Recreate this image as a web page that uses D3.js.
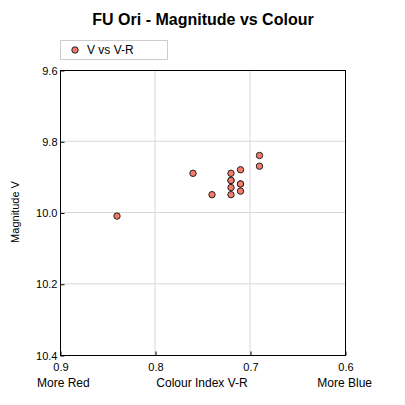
<!DOCTYPE html>
<html>
  <head>
    <script src="https://d3js.org/d3.v7.min.js"></script>
    <style>
      body { margin: 0; background: #fff; }
      text { font-family: "Liberation Sans", Arial, sans-serif; }
    </style>
  </head>
  <body>
    <svg width="405" height="405"></svg>
    <script>
      // V-R colour index and V magnitude for FU Ori
      const colourVR = [0.84, 0.76, 0.74, 0.72, 0.72, 0.72, 0.72, 0.72, 0.71, 0.71, 0.71, 0.71, 0.69, 0.69];
      const magV     = [10.01, 9.89, 9.95, 9.89, 9.91, 9.93, 9.95, 9.91, 9.88, 9.92, 9.94, 9.92, 9.84, 9.87];
      const xTicks = [0.9, 0.8, 0.7, 0.6];
      const yTicks = [9.6, 9.8, 10.0, 10.2, 10.4];

      const svg = d3.select('svg');
      const pLeft = 60, pRight = 345, pTop = 70, pBottom = 355;

      const x = d3.scaleLinear().domain([0.9, 0.6]).range([pLeft, pRight]);
      const y = d3.scaleLinear().domain([9.6, 10.4]).range([pTop, pBottom]);

      // grid
      svg.append('g').selectAll('line').data(xTicks.slice(1, -1)).enter().append('line')
        .attr('x1', d => x(d)).attr('x2', d => x(d)).attr('y1', pTop).attr('y2', pBottom)
        .attr('stroke', '#d8d8d8');
      svg.append('g').selectAll('line').data(yTicks.slice(1, -1)).enter().append('line')
        .attr('x1', pLeft).attr('x2', pRight).attr('y1', d => y(d)).attr('y2', d => y(d))
        .attr('stroke', '#d8d8d8');

      // frame
      svg.append('rect').attr('x', pLeft + 0.5).attr('y', pTop + 0.5)
        .attr('width', pRight - pLeft).attr('height', pBottom - pTop)
        .attr('fill', 'none').attr('stroke', '#000');

      const xAxis = svg.append('g').attr('transform', `translate(0.5,${pBottom + 0.5})`)
        .call(d3.axisBottom(x).tickValues(xTicks).tickFormat(d3.format('.1f')).tickSize(4));
      const yAxis = svg.append('g').attr('transform', `translate(${pLeft + 0.5},0.5)`)
        .call(d3.axisLeft(y).tickValues(yTicks).tickFormat(d3.format('.1f')).tickSize(4));
      [xAxis, yAxis].forEach(a => {
        a.select('.domain').remove();
        a.selectAll('text').attr('font-size', 11).attr('fill', '#000')
          .attr('font-family', '"Liberation Sans", Arial, sans-serif');
      });
      xAxis.selectAll('line').attr('y1', -4).attr('y2', 0).attr('stroke', '#000');
      xAxis.selectAll('text').attr('y', 8);
      yAxis.selectAll('line').attr('x1', 0).attr('x2', 4).attr('stroke', '#000');
      yAxis.selectAll('text').attr('x', -3);

      // points
      svg.append('g').selectAll('circle').data(colourVR.map((c, i) => [c, magV[i]]))
        .enter().append('circle')
        .attr('cx', d => x(d[0])).attr('cy', d => y(d[1])).attr('r', 3.2)
        .attr('fill', '#f47a6a').attr('stroke', '#222').attr('stroke-width', 1);

      // title
      svg.append('text').attr('x', 203).attr('y', 25).attr('text-anchor', 'middle')
        .attr('font-size', 16).attr('font-weight', 'bold').text('FU Ori - Magnitude vs Colour');

      // legend
      svg.append('rect').attr('x', 60.5).attr('y', 40.5).attr('width', 107).attr('height', 19)
        .attr('fill', '#fff').attr('stroke', '#ccc');
      svg.append('circle').attr('cx', 75).attr('cy', 50).attr('r', 3.2)
        .attr('fill', '#f47a6a').attr('stroke', '#222');
      svg.append('text').attr('x', 87).attr('y', 54).attr('font-size', 12).text('V vs V-R');

      // axis titles
      svg.append('text').attr('x', 202).attr('y', 387).attr('text-anchor', 'middle')
        .attr('font-size', 12).text('Colour Index V-R');
      svg.append('text').attr('x', 37).attr('y', 387).attr('font-size', 12).text('More Red');
      svg.append('text').attr('x', 372).attr('y', 387).attr('text-anchor', 'end')
        .attr('font-size', 12).text('More Blue');
      svg.append('text').attr('transform', 'translate(19,212) rotate(-90)')
        .attr('text-anchor', 'middle').attr('font-size', 11).text('Magnitude V');
    </script>
  </body>
</html>
